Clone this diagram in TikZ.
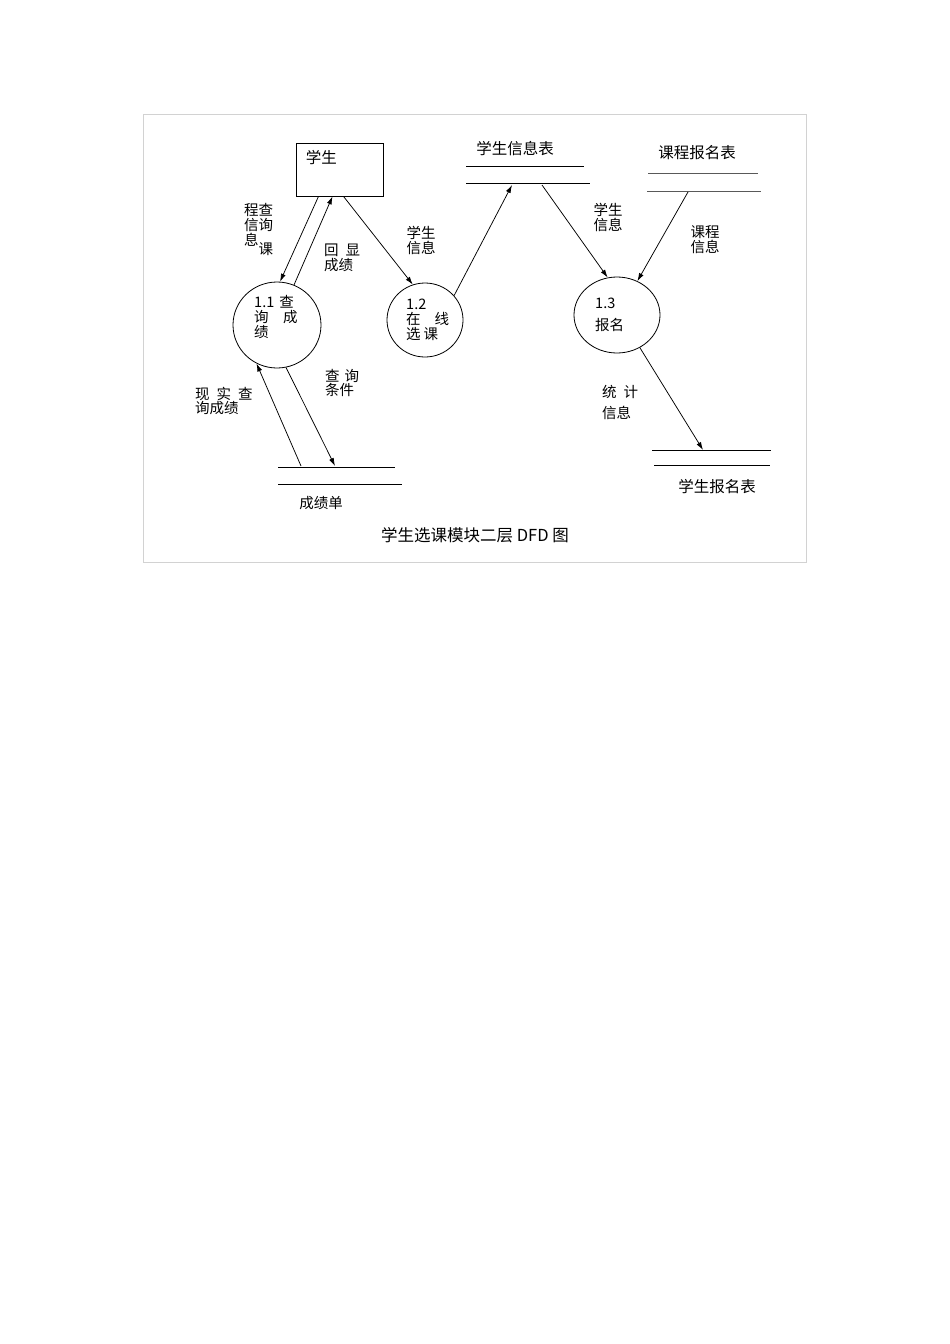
\documentclass[tikz,border=0pt]{standalone}
\usepackage{fontspec}
\setmainfont{Noto Sans CJK SC}
\usetikzlibrary{arrows.meta, shapes.geometric, positioning}

\begin{document}
\begin{tikzpicture}[x=1pt, y=-1pt, >={Latex[length=8pt,width=5pt]},
    process/.style={ellipse, draw, line width=0.8pt, inner sep=0pt},
    entity/.style={draw, line width=0.8pt, minimum width=87pt, minimum height=53pt, inner sep=0pt},
    flow/.style={->, line width=0.75pt},
    store/.style={line width=0.9pt},
    lbl/.style={font=\fontsize{14.5}{15}\selectfont, align=left, inner sep=0pt},
    title/.style={font=\fontsize{15.5}{17}\selectfont, inner sep=0pt}]
  \useasboundingbox (0,0) rectangle (950,1344);
  \draw[gray!35, line width=0.8pt] (143,114) rectangle (806,562);

  % Entity and processes
  \node[entity, label={[name=stuTxt, title, anchor=north west, xshift=10pt, yshift=-8pt]north west:学生}] (stu) at (339.5,169.5) {};
  \node[process, minimum width=88pt, minimum height=86pt] (p11) at (277,325) {};
  \node[process, minimum width=76pt, minimum height=74pt] (p12) at (425,320) {};
  \node[process, minimum width=86pt, minimum height=76pt] (p13) at (617,315) {};

  \node[lbl, anchor=west] (p11txt) at (254,317) {1.1\hspace{5pt}查\\询\quad 成\\绩};
  \node[lbl, anchor=west] (p12txt) at (406,320) {1.2\\在\hspace{14pt}线\\选\hspace{3pt}课};
  \node[lbl, anchor=west] (p13txt) at (595,315) {1.3\\[7pt]报名};

  % Data stores
  \draw[store] (466,166) coordinate (siA) -- (584,166);
  \draw[store] (466,183) coordinate (siB) -- (590,183);
  \node[title] (siName) at (515,149) {学生信息表};
  \coordinate (siIn) at (512,185);
  \coordinate (siOut) at (542,185);

  \draw[store, gray!70!black] (648,173) -- (758,173);
  \draw[store, gray!70!black] (647,191) -- (761,191);
  \node[title] (crName) at (697,153) {课程报名表};
  \coordinate (crOut) at (688,192);

  \draw[store] (652,450) -- (771,450);
  \draw[store] (654,465) -- (770,465);
  \node[title] (srName) at (717,487) {学生报名表};
  \coordinate (srIn) at (703,450);

  \draw[store] (278,467) -- (395,467);
  \draw[store] (278,484) -- (402,484);
  \node[lbl] (cjName) at (321,503) {成绩单};
  \coordinate (cjIn) at (335,466);
  \coordinate (cjOut) at (301,466);

  % Flows
  \draw[flow] ([xshift=-21pt]stu.south) -- (p11.86);
  \draw[flow] (p11.67) -- ([xshift=-7pt]stu.south);
  \draw[flow] ([xshift=4pt]stu.south) -- (p12.109);
  \draw[flow] (p12.40) -- (siIn);
  \draw[flow] (siOut) -- (p13.104);
  \draw[flow] (crOut) -- (p13.59);
  \draw[flow] (p13.-55) -- (srIn);
  \draw[flow] (p11.-78) -- (cjIn);
  \draw[flow] (cjOut) -- (p11.-118);

  % Flow labels
  \node[lbl, anchor=west] (lQuery) at (244,229) {程查\\信询\\息\raisebox{-9pt}{课}};
  \node[lbl, anchor=west] (lEcho) at (324,258) {回\hspace{7pt}显\\成绩};
  \node[lbl] (lInfoA) at (421,240) {学生\\信息};
  \node[lbl] (lInfoB) at (608,217) {学生\\信息};
  \node[lbl] (lCourse) at (705,240) {课程\\信息};
  \node[lbl, anchor=west] (lStat) at (602,402) {统\hspace{7pt}计\\[6pt]信息};
  \node[lbl, anchor=west, font=\fontsize{14.5}{13.5}\selectfont] (lCond) at (325,383) {查\hspace{5pt}询\\条件};
  \node[lbl, anchor=west, font=\fontsize{14.5}{13.5}\selectfont] (lShow) at (195,401) {现\hspace{7pt}实\hspace{7pt}查\\询成绩};

  % Caption
  \node[title, font=\fontsize{16.5}{18}\selectfont] (caption) at (475,535) {学生选课模块二层 DFD 图};
\end{tikzpicture}
\end{document}
